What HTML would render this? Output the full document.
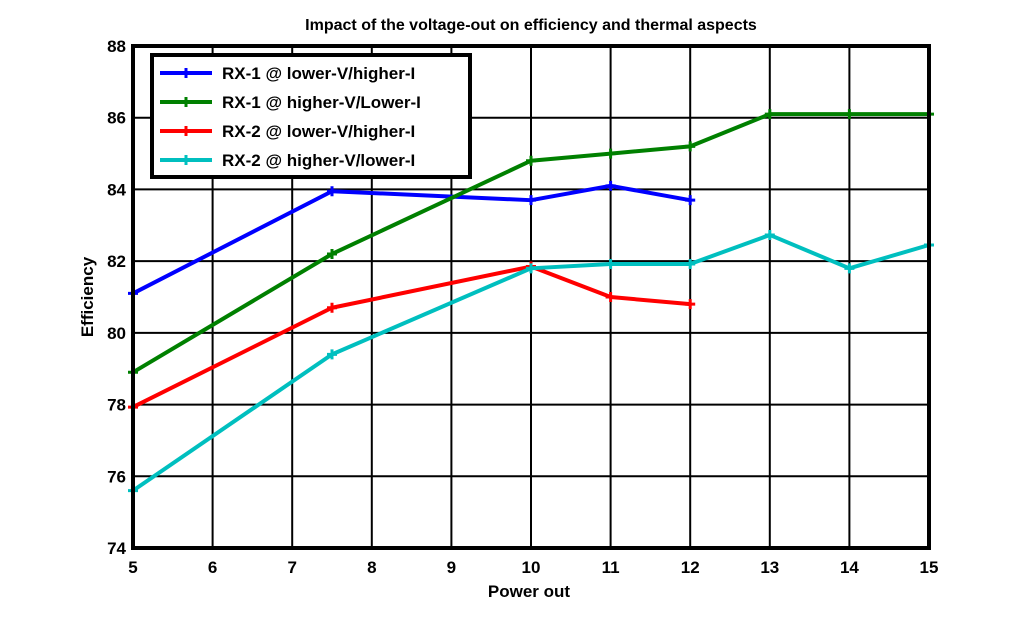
<!DOCTYPE html>
<html><head><meta charset="utf-8"><style>
html,body{margin:0;padding:0;background:#fff;}
svg{display:block;font-family:"Liberation Sans",sans-serif;}
</style></head><body>
<svg id="chart" width="1024" height="617" viewBox="0 0 1024 617">
<g id="grid"></g>
<g id="series"></g>
<rect x="133" y="46" width="796" height="502" fill="none" stroke="#000" stroke-width="4"/>
<g id="ticks"></g>
<text x="531" y="30" text-anchor="middle" font-size="16" font-weight="bold">Impact of the voltage-out on efficiency and thermal aspects</text>
<text x="529" y="597" text-anchor="middle" font-size="17" font-weight="bold">Power out</text>
<text transform="translate(93,297) rotate(-90)" text-anchor="middle" font-size="17" font-weight="bold">Efficiency</text>
<g id="legend">
<rect x="152" y="55" width="318" height="122" fill="#fff" stroke="#000" stroke-width="4"/>
</g>
</svg>
<script>
const xTicks=[5,6,7,8,9,10,11,12,13,14,15];
const yTicks=[74,76,78,80,82,84,86,88];
const seriesNames=["RX-1 @ lower-V/higher-I","RX-1 @ higher-V/Lower-I","RX-2 @ lower-V/higher-I","RX-2 @ higher-V/lower-I"];
const seriesColors=["#0000ff","#008000","#ff0000","#00bfbf"];
const rx1LowX=[5,7.5,10,11,12];
const rx1LowY=[81.1,83.95,83.7,84.1,83.7];
const rx1HighX=[5,7.5,10,11,12,13,14,15];
const rx1HighY=[78.9,82.2,84.8,85.0,85.2,86.1,86.1,86.1];
const rx2LowX=[5,7.5,10,11,12];
const rx2LowY=[77.93,80.7,81.85,81.0,80.8];
const rx2HighX=[5,7.5,10,11,12,13,14,15];
const rx2HighY=[75.6,79.4,81.8,81.92,81.92,82.73,81.8,82.45];
const NS="http://www.w3.org/2000/svg";
const X0=133,X1=929,Y0=548,Y1=46;
function xs(v){return X0+(v-5)/(15-5)*(X1-X0);}
function ys(v){return Y0-(v-74)/(88-74)*(Y0-Y1);}
function mk(t,a,p){const e=document.createElementNS(NS,t);for(const k in a)e.setAttribute(k,a[k]);p.appendChild(e);return e;}
const grid=document.getElementById('grid'),ticks=document.getElementById('ticks');
xTicks.forEach(v=>{
 const l=mk('line',{x1:xs(v),x2:xs(v),y1:Y1,y2:Y0,stroke:'#000','stroke-width':2},grid);
 
 
 const t=mk('text',{x:xs(v),y:573,'text-anchor':'middle','font-size':17,'font-weight':'bold'},ticks);
 t.textContent=v;
 
 
});
yTicks.forEach(v=>{
 const l=mk('line',{x1:X0,x2:X1,y1:ys(v),y2:ys(v),stroke:'#000','stroke-width':2},grid);
 
 
 const t=mk('text',{x:126,y:ys(v)+6,'text-anchor':'end','font-size':17,'font-weight':'bold'},ticks);
 t.textContent=v;
 
 
});
const sx=[rx1LowX,rx1HighX,rx2LowX,rx2HighX],sy=[rx1LowY,rx1HighY,rx2LowY,rx2HighY];
const sg=document.getElementById('series');
sx.forEach((X,i)=>{
 const pts=X.map((x,j)=>xs(x)+','+ys(sy[i][j])).join(' ');
 const pl=mk('polyline',{points:pts,fill:'none',stroke:seriesColors[i],'stroke-width':4,'stroke-linejoin':'round'},sg);
 
 
 X.forEach((x,j)=>{
  const cx=xs(x),cy=ys(sy[i][j]);
  const m=mk('path',{d:`M${cx-5},${cy}H${cx+5}M${cx},${cy-5}V${cy+5}`,stroke:seriesColors[i],'stroke-width':3},sg);
  
  
 });
});
const lg=document.getElementById('legend');
seriesNames.forEach((n,i)=>{
 const y=73+i*29;
 const l=mk('line',{x1:160,x2:212,y1:y,y2:y,stroke:seriesColors[i],'stroke-width':4},lg);
 
 
 const m=mk('path',{d:`M181,${y}H191M186,${y-5}V${y+5}`,stroke:seriesColors[i],'stroke-width':3},lg);
 
 
 const t=mk('text',{x:222,y:y+6,'font-size':17,'font-weight':'bold'},lg);
 t.textContent=n;
 
 
});
</script>
</body></html>
